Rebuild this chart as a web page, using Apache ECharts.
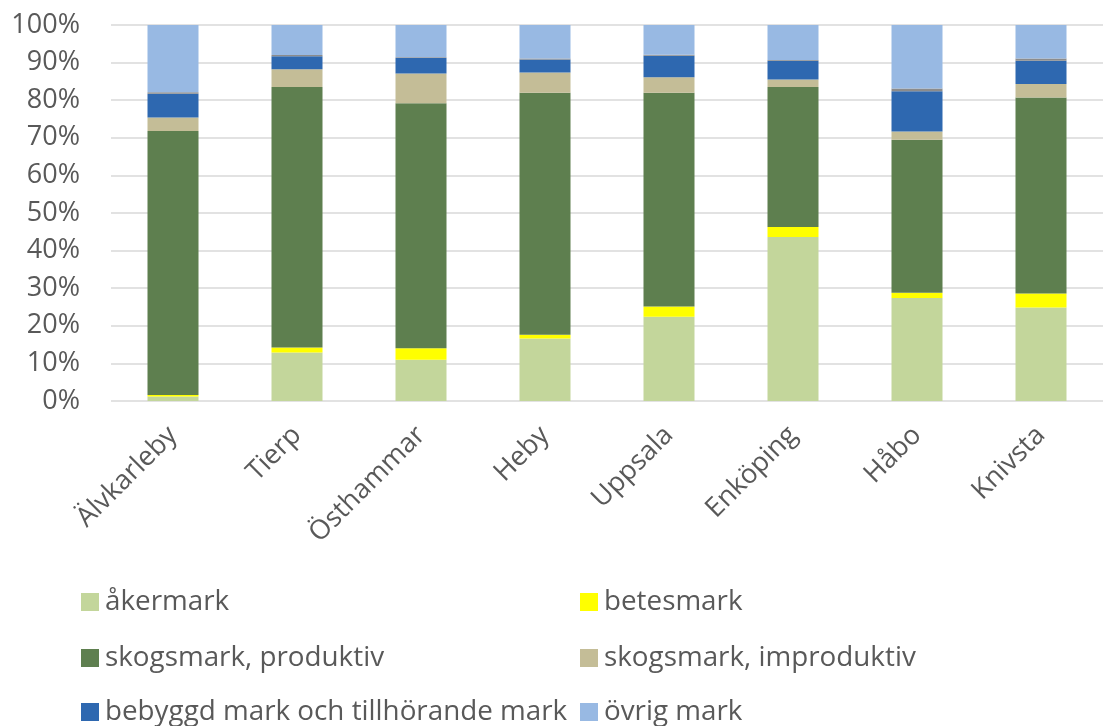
<!DOCTYPE html>
<html>
<head>
<meta charset="utf-8">
<script src="https://cdn.jsdelivr.net/npm/echarts@6/dist/echarts.min.js"></script>
<style>
html,body{margin:0;padding:0;background:#fff;}
#chart{width:1103px;height:726px;}
</style>
</head>
<body>
<div id="chart"></div>
<script>
const categories = ['Älvkarleby','Tierp','Östhammar','Heby','Uppsala','Enköping','Håbo','Knivsta'];
const akermark      = [1.2, 12.9, 11.0, 16.6, 22.4, 43.6, 27.4, 24.9];
const betesmark     = [0.4, 1.3, 3.0, 1.0, 2.7, 2.7, 1.4, 3.7];
const skogProd      = [70.2, 69.3, 65.2, 64.4, 56.9, 37.2, 40.7, 52.1];
const skogImprod    = [3.6, 4.7, 7.9, 5.4, 4.1, 2.0, 2.2, 3.6];
const bebyggd       = [6.3, 3.5, 4.1, 3.4, 5.7, 5.0, 10.7, 6.2];
const ovrigtGra     = [0.4, 0.3, 0.2, 0.3, 0.3, 0.2, 0.7, 0.6];
const ovrigMark     = [17.9, 8.0, 8.6, 8.9, 7.9, 9.3, 16.9, 8.9];
const yTicks = [0,10,20,30,40,50,60,70,80,90,100];

const FONT = '"Open Sans", "Noto Sans", sans-serif';
const TXT = '#595959';
const FS = 27;

function bar(name, data, color) {
  return {
    name: name, type: 'bar', stack: 'total', data: data, barWidth: 51,
    itemStyle: { color: color },
    emphasis: { disabled: true }
  };
}

function leg(name, left, centerY) {
  return {
    orient: 'horizontal', left: left, top: centerY - 14, padding: 0,
    itemWidth: 18, itemHeight: 18, itemGap: 0, icon: 'rect',
    data: [name],
    textStyle: { fontSize: 27.8, color: TXT, fontFamily: FONT, lineHeight: 28, padding: [0,0,0,1] },
    selectedMode: false
  };
}

const chart = echarts.init(document.getElementById('chart'), null, {renderer: 'canvas'});
chart.setOption({
  animation: false,
  backgroundColor: '#ffffff',
  grid: { left: 111, top: 25, width: 1005, height: 376, containLabel: false },
  xAxis: {
    type: 'category',
    data: categories,
    axisLine: { show: false },
    axisTick: { show: false },
    axisLabel: { rotate: 45, margin: 30, fontSize: FS, color: TXT, fontFamily: FONT, interval: 0 }
  },
  yAxis: {
    type: 'value',
    min: yTicks[0], max: yTicks[yTicks.length - 1], interval: 10,
    axisLine: { show: false },
    axisTick: { show: false },
    splitLine: { lineStyle: { color: '#d9d9d9', width: 1.5 } },
    axisLabel: { formatter: '{value}%', fontSize: FS, color: TXT, fontFamily: FONT, margin: 31 }
  },
  legend: [
    leg('åkermark', 81, 602),
    leg('skogsmark, produktiv', 81, 658),
    leg('bebyggd mark och tillhörande mark', 81, 712),
    leg('betesmark', 580, 602),
    leg('skogsmark, improduktiv', 580, 658),
    leg('övrig mark', 580, 712)
  ],
  series: [
    bar('åkermark', akermark, '#c3d69b'),
    bar('betesmark', betesmark, '#ffff00'),
    bar('skogsmark, produktiv', skogProd, '#5e7f4f'),
    bar('skogsmark, improduktiv', skogImprod, '#c4bd97'),
    bar('bebyggd mark och tillhörande mark', bebyggd, '#2e68b0'),
    bar('övrigt', ovrigtGra, '#8c8c8c'),
    bar('övrig mark', ovrigMark, '#98b9e3')
  ]
});
</script>
</body>
</html>
